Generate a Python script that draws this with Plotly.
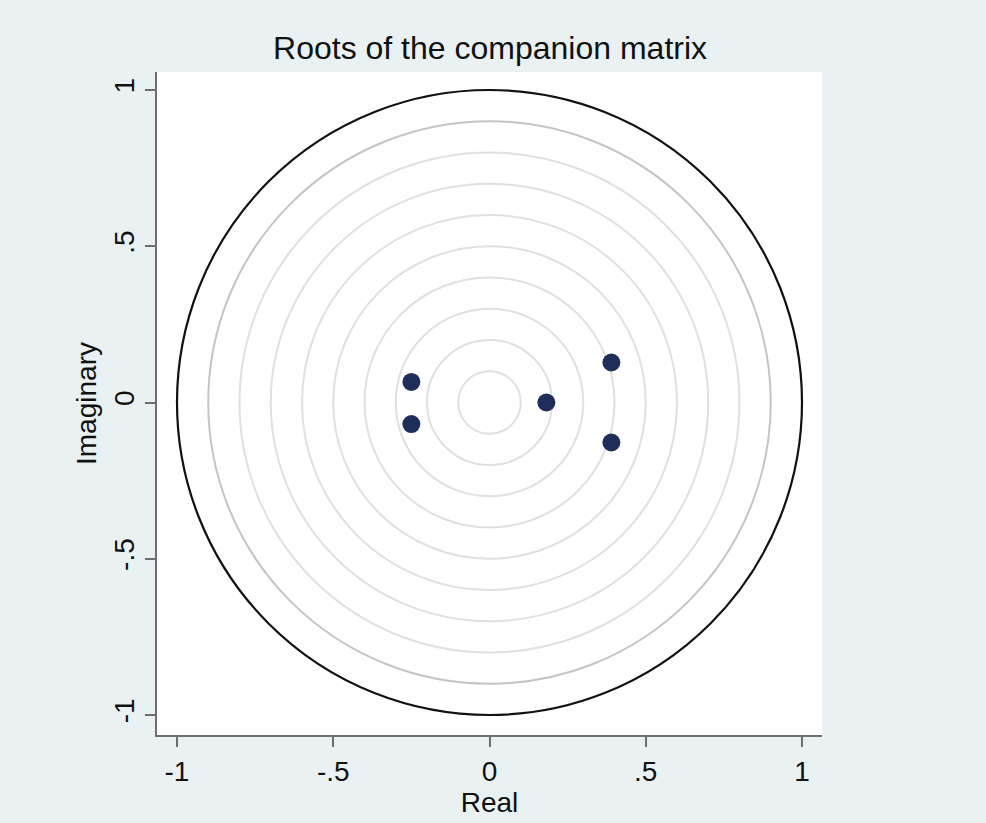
import plotly.graph_objects as go

# Eigenvalues of the companion matrix (real and imaginary parts)
root_real = [-0.250, -0.250, 0.182, 0.390, 0.390]
root_imag = [0.066, -0.069, 0.000, 0.128, -0.128]

# Reference circles: unit circle plus modulus grid
unit_radius = 1.0
grid_radii = [0.1, 0.2, 0.3, 0.4, 0.5, 0.6, 0.7, 0.8, 0.9]

tick_vals = [-1, -0.5, 0, 0.5, 1]
tick_text = ["-1", "-.5", "0", ".5", "1"]

BG = "#EAF1F3"
AXIS = "#6E6E6E"
FONT = "Liberation Sans, Arial, sans-serif"

fig = go.Figure()
fig.add_trace(go.Scatter(
    x=root_real, y=root_imag, mode="markers",
    marker=dict(size=18, color="#1F2D5A", line=dict(width=0)),
    showlegend=False, hoverinfo="x+y",
))

shapes = []
for r in grid_radii:
    shapes.append(dict(
        type="circle", xref="x", yref="y", x0=-r, y0=-r, x1=r, y1=r,
        line=dict(color="#C4C4C4" if r == 0.9 else "#E0E0E0", width=2),
        layer="below",
    ))
shapes.append(dict(
    type="circle", xref="x", yref="y",
    x0=-unit_radius, y0=-unit_radius, x1=unit_radius, y1=unit_radius,
    line=dict(color="#111111", width=2.2), layer="below",
))

axis_common = dict(
    tickvals=tick_vals, ticktext=tick_text,
    showgrid=False, zeroline=False,
    showline=True, linecolor=AXIS, linewidth=2, mirror=False,
    ticks="outside", ticklen=10, tickwidth=2, tickcolor=AXIS,
    tickfont=dict(family=FONT, size=28, color="#111111"),
)

fig.update_layout(
    width=986, height=823,
    margin=dict(l=157, r=164, t=72, b=88),
    paper_bgcolor=BG, plot_bgcolor="white",
    shapes=shapes,
    title=dict(text="Roots of the companion matrix", x=0.497, xanchor="center",
               y=1 - 48 / 823, yanchor="middle",
               font=dict(family=FONT, size=32, color="#111111")),
    xaxis=dict(range=[-1.064, 1.064], title=dict(text="Real", standoff=0,
               font=dict(family=FONT, size=28, color="#111111")), **axis_common),
    yaxis=dict(range=[-1.064, 1.0576], tickangle=-90,
               title=dict(text="Imaginary", standoff=4,
                          font=dict(family=FONT, size=28, color="#111111")),
               **axis_common),
)

fig.write_html("out.html")
